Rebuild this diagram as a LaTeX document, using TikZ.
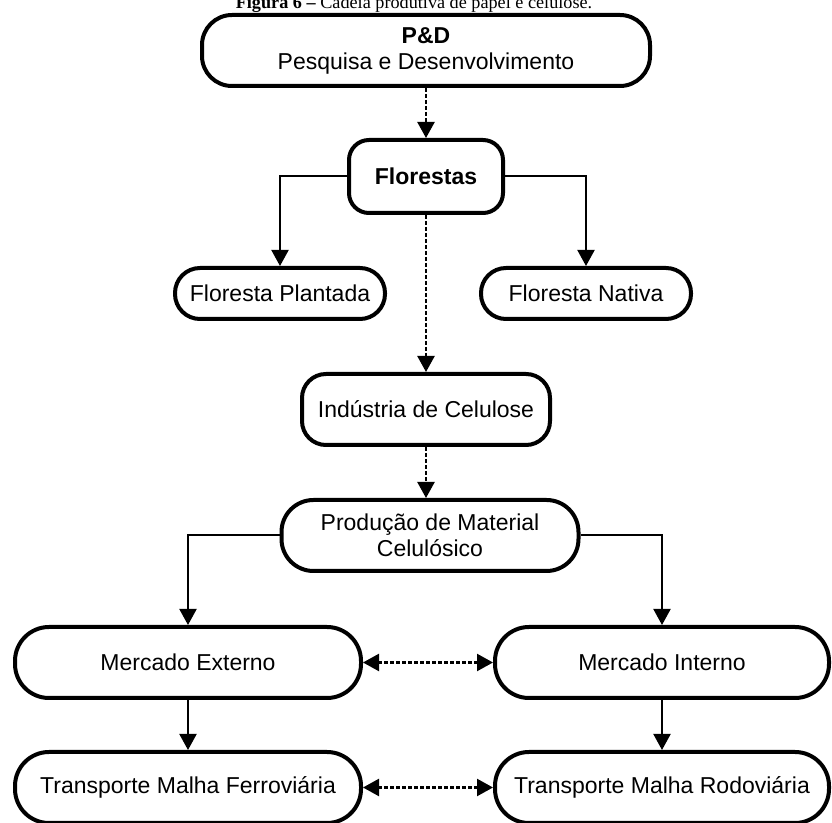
\documentclass[tikz,border=0pt]{standalone}
\usepackage{fontspec}
\setmainfont{Liberation Serif}
\setsansfont{Liberation Sans}
\usetikzlibrary{arrows.meta}

\begin{document}
\begin{tikzpicture}[x=0.5pt,y=-0.5pt,>={Triangle[length=8pt,width=8.5pt]},
  box/.style={draw, line width=2pt, align=center, inner sep=0pt, font=\sffamily\fontsize{11.5}{13}\selectfont},
  link/.style={->, line width=1pt},
  dotlink/.style={->, line width=1.2pt, dash pattern=on 2pt off 1pt}]

    \path[use as bounding box, clip] (0,0) rectangle (832,823);

    \node[anchor=base, font=\fontsize{9.1}{10}\selectfont] (cap) at (414,9) {\textbf{Figura 6 –} Cadeia produtiva de papel e celulose.};

    \node[box, minimum width=224pt, minimum height=35.5pt, rounded corners=15pt] (pd) at (426,50.5) {\textbf{P\&D}\\Pesquisa e Desenvolvimento};
    \node[box, minimum width=77pt, minimum height=36.5pt, rounded corners=10pt] (flor) at (426,176.5) {\textbf{Florestas}};

    \node[box, minimum width=105pt, minimum height=25.5pt, rounded corners=12.5pt] (fp) at (280,293.5) {Floresta Plantada};
    \node[box, minimum width=105pt, minimum height=25.5pt, rounded corners=12.5pt] (fn) at (586,293.5) {Floresta Nativa};

    \node[box, minimum width=124pt, minimum height=35.5pt, rounded corners=12pt] (ind) at (426,409.5) {Indústria de Celulose};
    \node[box, minimum width=148.5pt, minimum height=35.5pt, rounded corners=16pt] (prod) at (430,535.5) {Produção de Material\\Celulósico};

    \node[box, minimum width=173pt, minimum height=35.5pt, rounded corners=17pt] (me) at (188,662.5) {Mercado Externo};
    \node[box, minimum width=167pt, minimum height=35.5pt, rounded corners=17pt] (mi) at (662,662.5) {Mercado Interno};

    \node[box, minimum width=173pt, minimum height=35.5pt, rounded corners=17pt] (tf) at (188,787.5) {Transporte Malha Ferroviária};
    \node[box, minimum width=167pt, minimum height=35.5pt, rounded corners=17pt] (tr) at (662,787.5) {Transporte Malha Rodoviária};

    % ligacoes
    \draw[dotlink] (pd) -- (flor);
    \draw[link] (flor.west) -| (fp.north);
    \draw[link] (flor.east) -| (fn.north);
    \draw[dotlink] (flor) -- (ind);
    \draw[dotlink] (ind.south) -- (ind.south |- prod.north);
    \draw[link] (prod.west) -| (me.north);
    \draw[link] (prod.east) -| (mi.north);
    \draw[dotlink, <->] (me) -- (mi);
    \draw[link] (me) -- (tf);
    \draw[link] (mi) -- (tr);
    \draw[dotlink, <->] (tf) -- (tr);
\end{tikzpicture}
\end{document}
